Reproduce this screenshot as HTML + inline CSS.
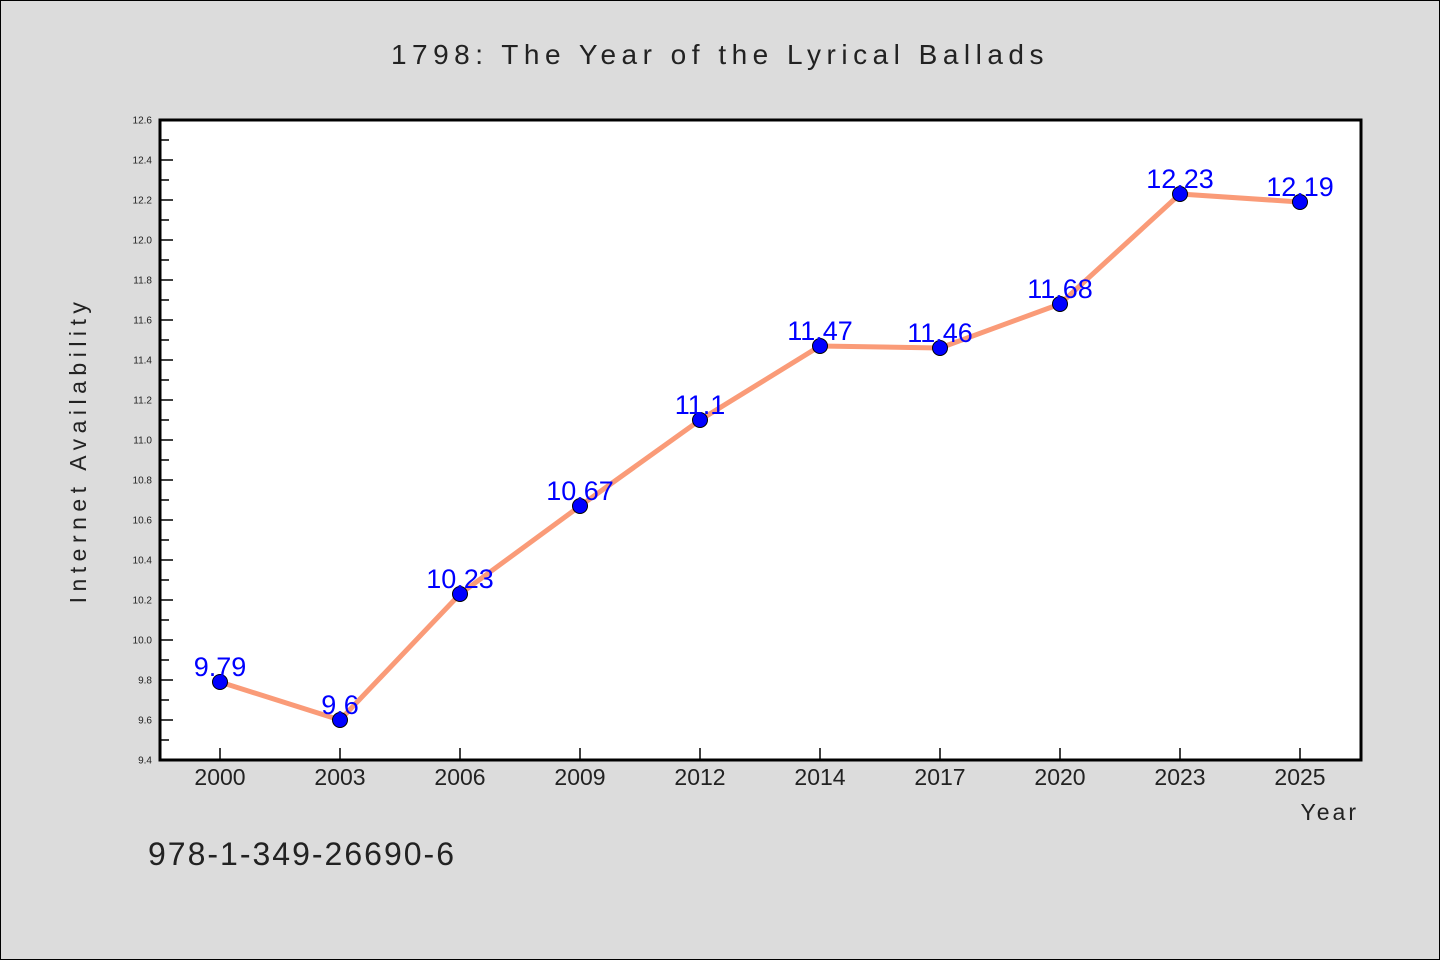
<!DOCTYPE html>
<html><head><meta charset="utf-8"><style>
html,body{margin:0;padding:0;background:#dcdcdc;}
svg{display:block;font-family:"WenQuanYi Zen Hei","Liberation Sans",sans-serif;}
</style></head><body>
<svg id="c" width="1440" height="960" viewBox="0 0 1440 960">
<rect x="0.5" y="0.5" width="1439" height="959" fill="#dcdcdc" stroke="#000" stroke-width="1"/>
<text x="720" y="64" text-anchor="middle" font-size="28" letter-spacing="5.5" fill="#222">1798: The Year of the Lyrical Ballads</text>
<rect x="160" y="120" width="1201" height="640" fill="#fff"/>
<g id="axes"></g>
<g id="marks"></g>
<rect x="160" y="120" width="1201" height="640" fill="none" stroke="#000" stroke-width="3"/>
<text x="86" y="450" transform="rotate(-90 86 450)" text-anchor="middle" font-size="23" letter-spacing="5.5" fill="#222">Internet Availability</text>
<text x="1359" y="820" text-anchor="end" font-size="23" letter-spacing="3" fill="#222">Year</text>
<text x="148" y="865" font-size="32" letter-spacing="2" fill="#222">978-1-349-26690-6</text>
</svg>
<script>
const categories=["2000","2003","2006","2009","2012","2014","2017","2020","2023","2025"];
const values=[9.79,9.6,10.23,10.67,11.1,11.47,11.46,11.68,12.23,12.19];
const valueLabels=["9.79","9.6","10.23","10.67","11.1","11.47","11.46","11.68","12.23","12.19"];
const yTicks=["9.4","9.6","9.8","10.0","10.2","10.4","10.6","10.8","11.0","11.2","11.4","11.6","11.8","12.0","12.2","12.4","12.6"];
const NS="http://www.w3.org/2000/svg";
const yMin=9.4,yMax=12.6,plotTop=120,plotBot=760;
const y=v=>plotBot-(v-yMin)/(yMax-yMin)*(plotBot-plotTop);
const x=i=>220+i*120;
function mk(t,a,p){const e=document.createElementNS(NS,t);for(const k in a)e.setAttribute(k,a[k]);p.appendChild(e);return e;}
const ax=document.getElementById('axes'),mg=document.getElementById('marks');
yTicks.forEach((t,i)=>{const v=parseFloat(t);
 const l=mk('line',{x1:160,x2:173,y1:y(v),y2:y(v),stroke:'#000','stroke-width':1.5},ax);
 
 
 const tx=mk('text',{x:152,y:y(v)+3.5,'text-anchor':'end','font-size':10,fill:'#222'},ax);tx.textContent=t;
 
 
 if(i<yTicks.length-1){const m=mk('line',{x1:160,x2:169,y1:y(v+0.1),y2:y(v+0.1),stroke:'#000','stroke-width':1.5},ax);
 
 }
});
categories.forEach((c,i)=>{
 const l=mk('line',{x1:x(i),x2:x(i),y1:plotBot,y2:plotBot-12,stroke:'#000','stroke-width':1.5},ax);
 
 
 const t=mk('text',{x:x(i),y:785,'text-anchor':'middle','font-size':23,fill:'#222'},ax);t.textContent=c;
 
 
});
const pts=values.map((v,i)=>x(i)+','+y(v)).join(' ');
const pl=mk('polyline',{points:pts,fill:'none',stroke:'#fa9b78','stroke-width':5,'stroke-linejoin':'round'},mg);


values.forEach((v,i)=>{
 const c=mk('circle',{cx:x(i),cy:y(v),r:7.5,fill:'#0000ff',stroke:'#000','stroke-width':1},mg);
 
 
 const t=mk('text',{x:x(i),y:y(v)-6,'text-anchor':'middle','font-size':27,fill:'#0000ff'},mg);t.textContent=valueLabels[i];
 
 
});
</script>
</body></html>
